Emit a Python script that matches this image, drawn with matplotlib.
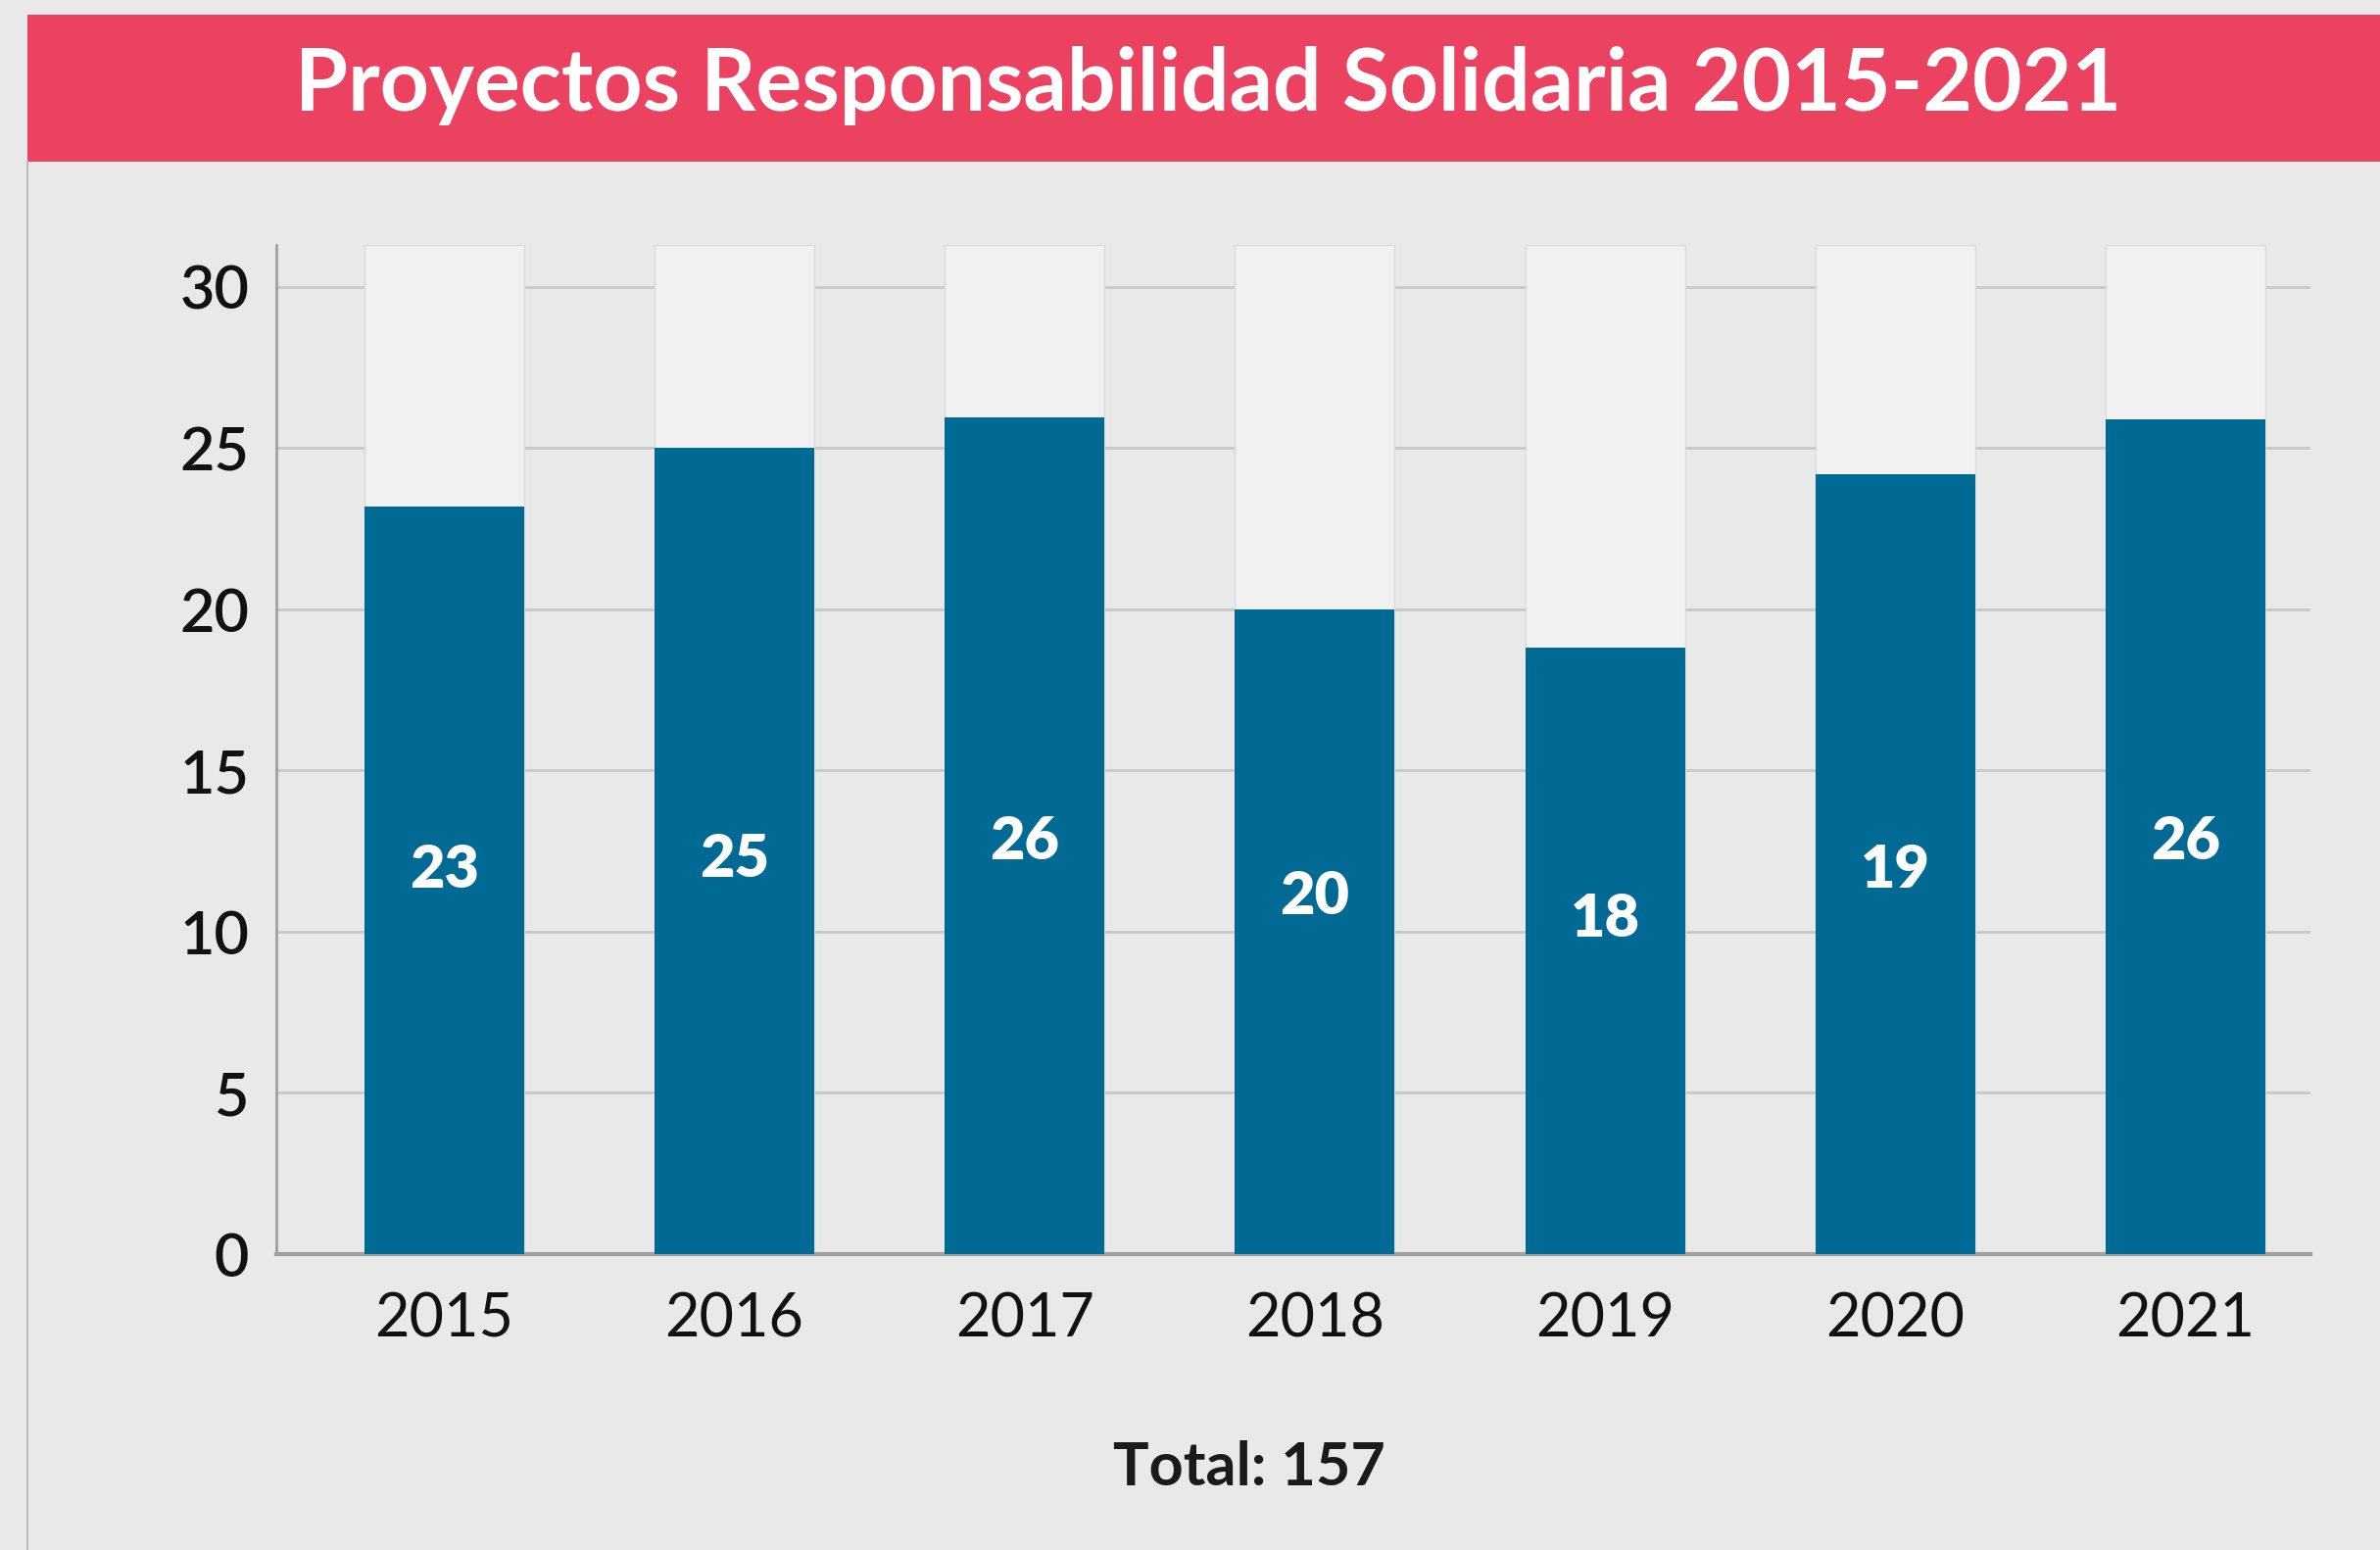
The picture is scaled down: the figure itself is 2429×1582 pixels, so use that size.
import matplotlib
matplotlib.use('Agg')
import matplotlib.pyplot as plt

# data
years = ['2015', '2016', '2017', '2018', '2019', '2020', '2021']
bar_heights = [23.2, 25.0, 25.95, 20.0, 18.8, 24.2, 25.9]   # drawn height of blue bars
bar_labels = [23, 25, 26, 20, 18, 19, 26]                   # printed numbers
label_pos = [11.9, 12.25, 12.8, 11.1, 10.4, 11.9, 12.8]     # where the numbers sit
y_ticks = [0, 5, 10, 15, 20, 25, 30]
y_top = 31.3
title = 'Proyectos Responsabilidad Solidaria 2015-2021'
total_text = 'Total: 157'

plt.rcParams['font.family'] = ['Lato', 'DejaVu Sans']

fig = plt.figure(figsize=(24.29, 15.82), dpi=100)
fig.patch.set_facecolor('#E9E9E9')

# title banner
banner = fig.add_axes([28 / 2429, 1 - 165 / 1582, 1 - 28 / 2429, 150 / 1582])
banner.set_facecolor('#EA4260')
banner.set_xticks([]); banner.set_yticks([])
for s in banner.spines.values():
    s.set_visible(False)
fig.text(1233 / 2429, 1 - 88 / 1582, title, color='white', fontsize=63,
         fontweight='bold', ha='center', va='center')

# thin frame line on the left
fig.add_artist(plt.Line2D([28 / 2429, 28 / 2429], [0, 1 - 165 / 1582],
                          color='#BDBDBD', lw=1.5, transform=fig.transFigure))

ax = fig.add_axes([282 / 2429, 1 - 1280 / 1582, (2358 - 282) / 2429, (1280 - 250) / 1582])
ax.set_facecolor('none')
x = range(len(years))
ax.bar(x, [y_top] * len(years), width=0.55, color='#F1F1F1', edgecolor='#DADADA',
       linewidth=1, zorder=2)
ax.bar(x, bar_heights, width=0.55, color='#006A94', zorder=3)
for i, (lab, pos) in enumerate(zip(bar_labels, label_pos)):
    ax.text(i, pos, str(lab), color='white', fontsize=44, fontweight='heavy',
            ha='center', va='center', zorder=4)

ax.set_xlim(-0.578, 6.43)
ax.set_ylim(0, y_top)
ax.set_yticks(y_ticks)
ax.set_xticks(list(x))
ax.set_xticklabels(years)
ax.tick_params(axis='both', length=0, labelsize=44, colors='#111111')
ax.tick_params(axis='y', pad=20)
ax.tick_params(axis='x', pad=28)
for t in ax.get_yticklabels():
    t.set_fontweight('semibold')
ax.grid(axis='y', color='#C8C8C8', lw=2, zorder=1)
ax.spines['top'].set_visible(False)
ax.spines['right'].set_visible(False)
ax.spines['left'].set_color('#A0A0A0')
ax.spines['bottom'].set_color('#A0A0A0')
ax.spines['left'].set_linewidth(2)
ax.spines['bottom'].set_linewidth(3)

fig.text(1275 / 2429, 1 - 1498 / 1582, total_text, color='#1A1A1A', fontsize=44,
         fontweight='bold', ha='center', va='center')

fig.savefig('out.png', dpi=100, facecolor=fig.get_facecolor())
